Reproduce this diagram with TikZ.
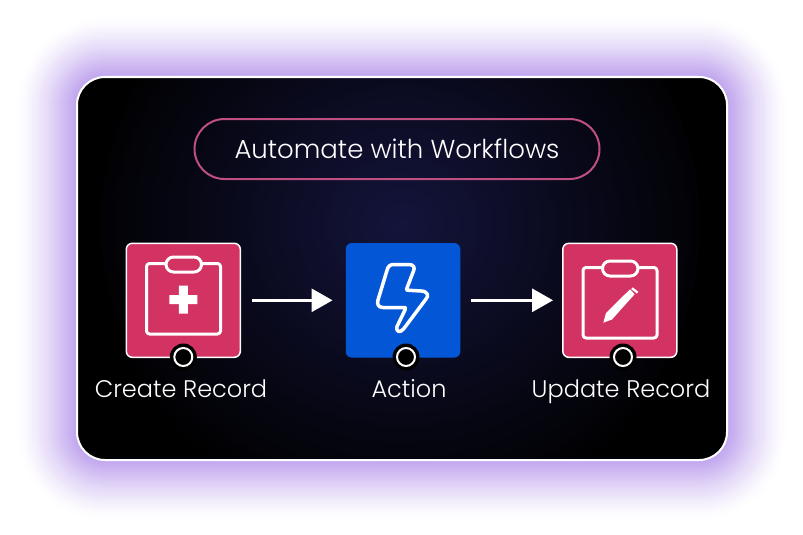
\documentclass[tikz,border=0pt]{standalone}
\usepackage{fontspec}
\setmainfont{Poppins}[UprightFont=* Light]
\usetikzlibrary{arrows.meta}
\definecolor{recordpink}{HTML}{D23363}
\definecolor{actionblue}{HTML}{0357D6}
\definecolor{titlepink}{HTML}{BE4F80}
\definecolor{glowviolet}{HTML}{9060E0}
\definecolor{midnight}{HTML}{14143C}
\tikzset{
  card/.style={draw=white,line width=2pt,fill=black,rounded corners=28pt,minimum width=650pt,minimum height=383pt,inner sep=0pt,
    path picture={\shade[inner color=midnight,outer color=black] ([shift={(-2,-43.5)}]path picture bounding box.center) circle (300pt);}},
  pill/.style={draw=titlepink,line width=2pt,rounded corners=30pt,minimum width=405pt,minimum height=60pt,inner sep=0pt,text=white,font=\fontsize{26}{30}\selectfont},
  recordbox/.style={draw=white,line width=1.5pt,fill=recordpink,rounded corners=6pt,minimum size=114pt,inner sep=0pt},
  actionbox/.style={fill=actionblue,rounded corners=6pt,minimum size=114.5pt,inner sep=0pt},
  portdot/.style={circle,fill=black,draw=white,line width=2pt,minimum size=18pt,inner sep=0pt},
  portback/.style={circle,fill=black,minimum size=27pt,inner sep=0pt},
  boxlabel/.style={text=white,font=\fontsize{24}{28}\selectfont,inner sep=0pt,anchor=base},
  flow/.style={draw=white,line width=3pt,-{Triangle[length=21pt,width=23pt]}},
  icon/.style={draw=white,line width=3pt,line join=round}
}
\begin{document}
\begin{tikzpicture}[x=1pt,y=-1pt]
  \useasboundingbox (0,0) rectangle (803,535);
  % glow behind the card
  \foreach \n in {60,59,...,1}{
    \pgfmathsetmacro{\glow}{.0025+.00035*(61-\n)}
    \fill[glowviolet,opacity=\glow,rounded corners={28pt+\n pt}] (77-\n,77-\n) rectangle (727+\n,460+\n);
  }

  \node[card] (card) at (402,268.5) {};
  \node[pill] (title) at (397,149) {Automate with Workflows};

  \node[recordbox] (create) at (183.3,300.3) {};
  \node[actionbox] (action) at (403,300.3) {};
  \node[recordbox] (update) at (619.8,300.3) {};

  \foreach \name/\px in {create/183.3,action/406,update/623}{
    \node[portback] (\name back) at (\px,357) {};
    \node[portdot] (\name port) at (\px,357) {};
  }

  \node[boxlabel] (createlabel) at (181,397) {Create Record};
  \node[boxlabel] (actionlabel) at (409,397) {Action};
  \node[boxlabel] (updatelabel) at (621,397) {Update Record};

  \draw[flow,shorten <=11pt,shorten >=13pt] (create) -- (action);
  \draw[flow,shorten <=11pt,shorten >=9pt] (action) -- (update);

  % clipboards
  \foreach \cx/\cy in {146.5/263.5,583/267.5}{
    \draw[icon,rounded corners=3pt] (\cx,\cy) rectangle (\cx+74,\cy+70.5);
    \draw[icon,fill=recordpink,rounded corners=7.5pt] (\cx+19.5,\cy-6.5) rectangle (\cx+55,\cy+8.5);
  }
  % plus
  \fill[white] (183.3,299.5) +(-14,-4.5) -- +(-4.5,-4.5) -- +(-4.5,-14) -- +(4.5,-14) -- +(4.5,-4.5) -- +(14,-4.5)
    -- +(14,4.5) -- +(4.5,4.5) -- +(4.5,14) -- +(-4.5,14) -- +(-4.5,4.5) -- +(-14,4.5) -- cycle;
  % pencil
  \fill[white] (603.3,322.7) -- (606,313) -- (630,289.3) -- (634.6,294.2) -- (612,319.5) -- cycle;
  \fill[white] (632.7,287.3) -- (638.3,291.7) -- (636.9,293.6) -- (631.2,289.1) -- cycle;
  % bolt
  \draw[icon,line width=3.5pt] (386.8,271) .. controls (388,266) and (390,264.5) .. (394,264.5) -- (409,264.5)
    .. controls (414,264.5) and (415,268) .. (413.5,271) -- (407,288) .. controls (406,290) .. (409,290.3) -- (421,291)
    .. controls (428,291.3) and (429,296) .. (426,299) -- (403.5,329) .. controls (400,333.5) and (395.5,331.5) .. (397,326.5)
    -- (405,310) .. controls (405.8,307.5) .. (403,307.5) -- (383,307.5) .. controls (378,307.5) and (377,304) .. (378,300) -- cycle;
\end{tikzpicture}
\end{document}
